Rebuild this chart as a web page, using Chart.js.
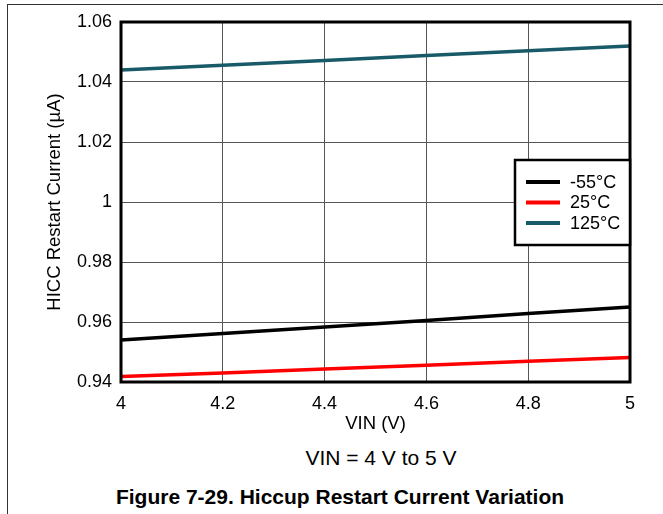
<!DOCTYPE html>
<html>
<head>
<meta charset="utf-8">
<script src="https://cdn.jsdelivr.net/npm/chart.js@4.4.0/dist/chart.umd.min.js"></script>
<style>
  html, body { margin: 0; padding: 0; background: #fff; }
  body { width: 663px; height: 514px; position: relative; overflow: hidden; font-family: "Liberation Sans", Arial, sans-serif; }
  #frame { position: absolute; left: 7px; top: 4px; width: 700px; height: 600px; border-left: 1px solid #333; border-top: 1px solid #333; }
  #wrap { position: absolute; left: 0; top: 0; width: 663px; height: 440px; }
  #cond { position: absolute; top: 446px; left: 0; width: 762px; line-height: 24px; text-align: center; font-size: 21px; color: #000; }
  #caption { position: absolute; top: 485px; left: 0; width: 680px; line-height: 24px; text-align: center; font-size: 21px; font-weight: bold; color: #000; }
</style>
</head>
<body>
<div id="frame"></div>
<div id="wrap"><canvas id="chartHicc" width="663" height="440"></canvas></div>
<div id="cond">VIN = 4 V to 5 V</div>
<div id="caption">Figure 7-29. Hiccup Restart Current Variation</div>
<script>
const vin = [4, 4.2, 4.4, 4.6, 4.8, 5];
const tempLabels = ['-55°C', '25°C', '125°C'];
const iMinus55 = [0.954, 0.9562, 0.9583, 0.9605, 0.9628, 0.965];
const i25 = [0.9418, 0.9430, 0.9443, 0.9456, 0.9469, 0.9482];
const i125 = [1.0440, 1.0456, 1.0472, 1.0488, 1.0504, 1.0520];
const yTicks = [0.94, 0.96, 0.98, 1, 1.02, 1.04, 1.06];
const xTicks = [4, 4.2, 4.4, 4.6, 4.8, 5];

const colores = ['#000000', '#ff0000', '#185a68'];
const fuente = '"Liberation Sans", Arial, sans-serif';

const toPoints = (arr) => arr.map((v, i) => ({ x: vin[i], y: v }));

const canvas = document.getElementById('chartHicc');
const ctx = canvas.getContext('2d');

// marco del area de trazado y leyenda dentro del grafico
const marcoPlugin = {
    id: 'marco',
    afterDatasetsDraw(chart) {
        const { ctx, chartArea: a } = chart;
        ctx.save();
        ctx.strokeStyle = '#000';
        ctx.lineWidth = 3;
        ctx.strokeRect(a.left, a.top, a.right - a.left, a.bottom - a.top);

        // leyenda
        const bx = a.right - 115, by = a.top + 138, bw = 115, bh = 85;
        ctx.fillStyle = '#fff';
        ctx.fillRect(bx, by, bw, bh);
        ctx.lineWidth = 2.5;
        ctx.strokeRect(bx, by, bw, bh);
        ctx.font = '18px ' + fuente;
        ctx.textBaseline = 'middle';
        chart.data.datasets.forEach((ds, i) => {
            const yy = by + 22 + i * 20.5;
            ctx.strokeStyle = ds.borderColor;
            ctx.lineWidth = 4;
            ctx.beginPath();
            ctx.moveTo(bx + 11, yy);
            ctx.lineTo(bx + 45, yy);
            ctx.stroke();
            ctx.fillStyle = '#000';
            ctx.fillText(ds.label, bx + 55, yy + 1);
        });
        ctx.restore();
    }
};

const chartHicc = new Chart(ctx, {
    type: 'line',
    data: {
        datasets: [
            { label: tempLabels[0], data: toPoints(iMinus55), borderColor: colores[0], borderWidth: 3.5, pointRadius: 0 },
            { label: tempLabels[1], data: toPoints(i25), borderColor: colores[1], borderWidth: 3.5, pointRadius: 0 },
            { label: tempLabels[2], data: toPoints(i125), borderColor: colores[2], borderWidth: 3.5, pointRadius: 0 }
        ]
    },
    options: {
        responsive: false,
        animation: false,
        layout: { padding: { top: 22, right: 33, left: 0, bottom: 0 } },
        plugins: { legend: { display: false }, tooltip: { enabled: false } },
        scales: {
            x: {
                type: 'linear',
                min: 4,
                max: 5,
                afterBuildTicks: (s) => { s.ticks = xTicks.map(v => ({ value: v })); },
                afterFit: (s) => { s.height = 58; },
                grid: { color: '#555555', lineWidth: 1, drawTicks: false },
                border: { display: false },
                ticks: { color: '#000', font: { size: 18, family: fuente }, padding: 11, maxRotation: 0, callback: (v) => String(v) },
                title: { display: true, text: 'VIN (V)', color: '#000', font: { size: 18.5, family: fuente }, padding: { top: 0, bottom: 5 } }
            },
            y: {
                type: 'linear',
                min: 0.94,
                max: 1.06,
                afterBuildTicks: (s) => { s.ticks = yTicks.map(v => ({ value: v })); },
                afterFit: (s) => { s.width = 121; },
                grid: { color: '#555555', lineWidth: 1, drawTicks: false },
                border: { display: false },
                ticks: { color: '#000', font: { size: 18, family: fuente }, padding: 9, callback: (v) => String(Math.round(v * 100) / 100) },
                title: { display: true, text: 'HICC Restart Current (µA)', color: '#000', font: { size: 18.5, family: fuente }, padding: { top: 44, bottom: 0 } }
            }
        }
    },
    plugins: [marcoPlugin]
});
</script>
</body>
</html>
